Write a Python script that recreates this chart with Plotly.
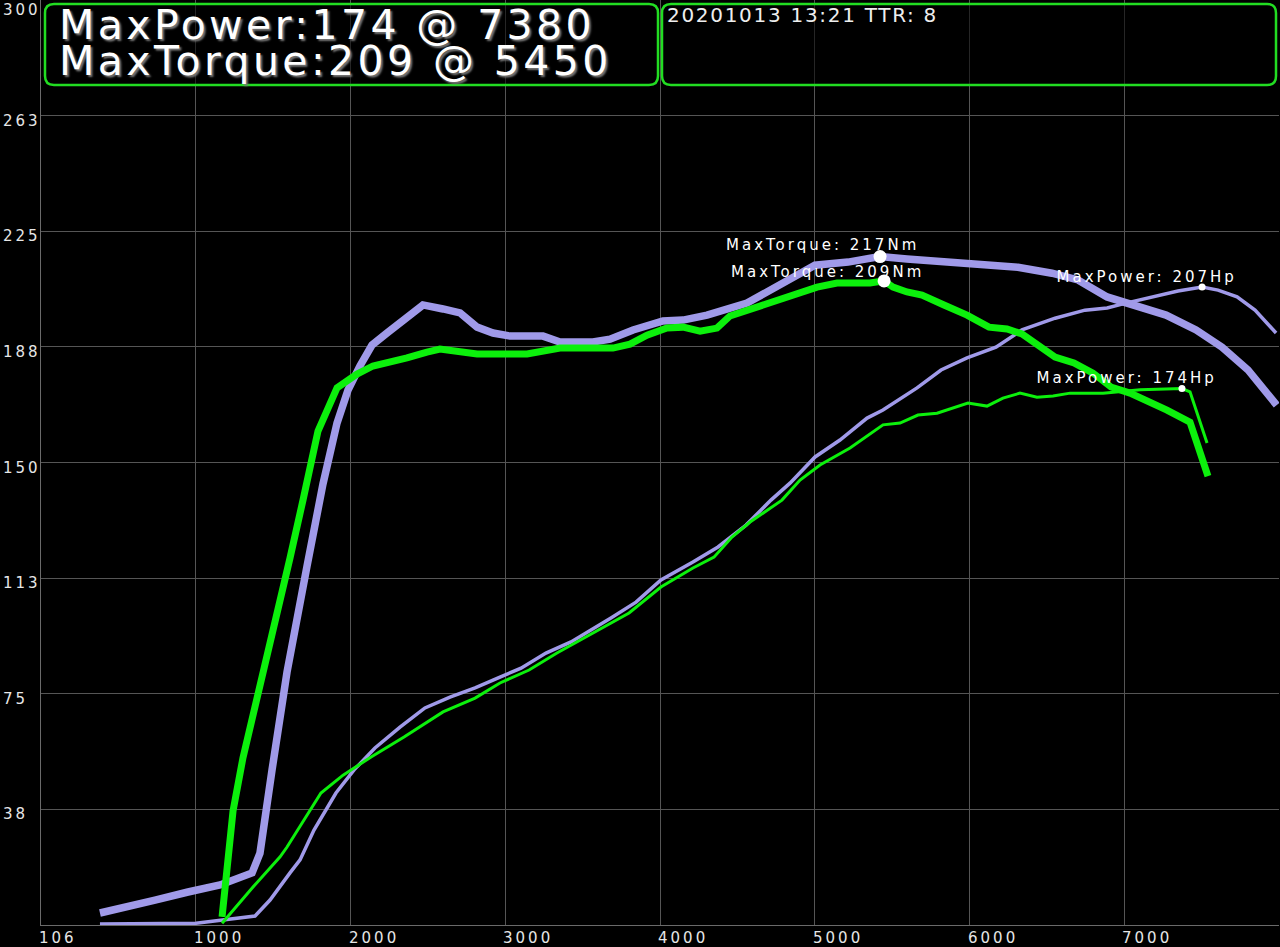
import numpy as np
import plotly.graph_objects as go

# ---------------- data ----------------
# Run A (lavender) torque [Nm] and power [Hp] vs rpm
a_torque_rpm = [381, 523, 737, 950, 1157, 1364, 1415, 1493, 1590, 1719, 1822, 1913, 1984, 2061, 2139,
                2236, 2365, 2468, 2598, 2708, 2818, 2921, 3031, 3244, 3354, 3567, 3677, 3826, 4019,
                4149, 4304, 4472, 4562, 4691, 4840, 5001, 5215, 5422, 5596, 5835, 6003, 6171, 6313,
                6533, 6701, 6889, 7082, 7270, 7464, 7632, 7800, 7985]
a_torque = [3.9, 5.8, 8.1, 10.7, 13.0, 16.9, 23.3, 50.3, 82.1, 116.4, 143.0, 162.8, 173.5, 181.3, 188.1,
            192.0, 197.2, 201.1, 199.8, 198.5, 193.9, 192.0, 191.0, 191.0, 189.1, 189.1, 190.0, 193.0,
            195.9, 196.2, 197.8, 200.4, 201.7, 205.3, 209.2, 214.0, 215.0, 216.8, 216.0, 215.0, 214.7,
            213.7, 213.3, 211.4, 209.2, 203.7, 200.4, 197.8, 193.0, 187.4, 180.0, 168.6]

a_power_rpm = [381, 1002, 1383, 1480, 1609, 1674, 1764, 1906, 2023, 2158, 2320, 2481, 2643, 2805, 2966,
               3102, 3263, 3425, 3683, 3845, 4006, 4213, 4375, 4556, 4717, 4840, 5002, 5163, 5338,
               5441, 5661, 5816, 5984, 6171, 6339, 6553, 6746, 6889, 7011, 7179, 7347, 7503, 7606,
               7729, 7845, 7981]
a_power = [0.3, 0.6, 2.9, 8.1, 16.9, 21.1, 30.8, 42.8, 50.3, 57.4, 64.2, 70.4, 73.9, 76.9, 80.4,
           83.3, 88.2, 91.8, 99.6, 104.7, 111.9, 117.7, 122.6, 129.7, 137.8, 143.3, 151.8, 157.3, 164.4,
           167.0, 174.2, 180.0, 183.9, 187.4, 193.0, 196.8, 199.4, 200.1, 201.7, 203.7, 205.6, 206.9,
           205.9, 203.7, 199.4, 192.0]

# Run B (green) torque [Nm] and power [Hp] vs rpm
b_torque_rpm = [1170, 1241, 1305, 1415, 1525, 1609, 1693, 1790, 1913, 2042, 2145, 2320, 2365, 2494,
                2578, 2818, 3141, 3354, 3696, 3806, 3916, 4045, 4149, 4259, 4368, 4452, 4582, 4691,
                4795, 4905, 5015, 5144, 5357, 5448, 5506, 5596, 5693, 5835, 5984, 6126, 6242, 6339,
                6462, 6553, 6675, 6798, 6914, 7037, 7276, 7425, 7541]
b_torque = [2.6, 37.0, 54.2, 76.9, 100.5, 119.0, 137.8, 160.2, 174.2, 178.7, 181.3, 183.2, 183.9, 185.8,
            186.8, 185.2, 185.2, 187.1, 187.1, 188.4, 191.3, 193.6, 193.9, 192.6, 193.6, 197.5, 199.8,
            201.7, 203.0, 205.0, 206.9, 208.2, 208.2, 208.9, 206.9, 205.3, 204.3, 201.1, 197.8, 193.9,
            193.3, 191.7, 187.4, 184.2, 182.3, 179.0, 174.5, 172.5, 167.0, 163.1, 145.6]

b_power_rpm = [1170, 1370, 1545, 1590, 1809, 1952, 2133, 2346, 2598, 2805, 2966, 3154, 3334, 3683,
               3800, 4006, 4213, 4349, 4465, 4582, 4788, 4905, 5034, 5228, 5441, 5551, 5667, 5790,
               5990, 6113, 6216, 6326, 6436, 6540, 6650, 6863, 7102, 7373, 7425, 7535]
b_power = [0.6, 12.3, 22.1, 25.3, 42.8, 48.6, 54.5, 61.0, 69.1, 73.6, 78.5, 82.7, 88.2, 97.9,
           101.2, 109.6, 115.8, 119.3, 125.8, 130.7, 137.8, 144.3, 149.2, 154.7, 162.2, 162.8, 165.4,
           166.0, 169.3, 168.3, 170.9, 172.5, 171.2, 171.6, 172.5, 172.5, 173.6, 174.0, 172.9, 156.3]

x_tick_vals = [0, 1000, 2000, 3000, 4000, 5000, 6000, 7000]
x_tick_text = ["106", "1000", "2000", "3000", "4000", "5000", "6000", "7000"]
y_tick_vals = [37.5, 75, 112.5, 150, 187.5, 225, 262.5, 300]
y_tick_text = ["38", "75", "113", "150", "188", "225", "263", "300"]

title_line1 = "MaxPower:174 @ 7380"
title_line2 = "MaxTorque:209 @ 5450"
info_text = "20201013 13:21 TTR: 8"

# ---------------- styling ----------------
PURPLE = "#a09ae9"
GREEN = "#0cf00c"
FONT = "DejaVu Sans"
W, H = 1280, 947
ML, MR, MT, MB = 41, 1, 0, 22
PW, PH = W - ML - MR, H - MT - MB


def px2paper(xp, yp):
    return (xp - ML) / PW, (H - MB - yp) / PH


fig = go.Figure()

fig.add_trace(go.Scatter(x=a_power_rpm, y=a_power, mode="lines",
                         line=dict(color=PURPLE, width=3.5), hoverinfo="skip"))
fig.add_trace(go.Scatter(x=b_power_rpm, y=b_power, mode="lines",
                         line=dict(color=GREEN, width=3), hoverinfo="skip"))
fig.add_trace(go.Scatter(x=a_torque_rpm, y=a_torque, mode="lines",
                         line=dict(color=PURPLE, width=7.5), hoverinfo="skip"))
fig.add_trace(go.Scatter(x=b_torque_rpm, y=b_torque, mode="lines",
                         line=dict(color=GREEN, width=7), hoverinfo="skip"))

annotations = []
peaks = [
    (a_torque_rpm, a_torque, "MaxTorque: {}Nm", 13, -58, 12),
    (b_torque_rpm, b_torque, "MaxTorque: {}Nm", 13, -57, 9),
    (a_power_rpm, a_power, "MaxPower: {}Hp", 7, -56, 10),
    (b_power_rpm, b_power, "MaxPower: {}Hp", 7, -55, 11),
]
for xs, ys, fmt, msize, dx, dy in peaks:
    i = int(np.argmax(ys))
    fig.add_trace(go.Scatter(x=[xs[i]], y=[ys[i]], mode="markers",
                             marker=dict(color="white", size=msize, line=dict(width=0)),
                             hoverinfo="skip"))
    annotations.append(dict(x=xs[i], y=ys[i], xref="x", yref="y", text=fmt.format(round(ys[i])),
                            showarrow=False, xanchor="center", yanchor="middle",
                            xshift=dx, yshift=dy,
                            font=dict(family=FONT, size=15, color="white")))

# tick labels (left-aligned like the original)
for v, t in zip(x_tick_vals, x_tick_text):
    annotations.append(dict(x=v, y=0, xref="x", yref="paper", text=t, showarrow=False,
                            xanchor="left", yanchor="top", align="left", xshift=-4, yshift=-2,
                            font=dict(family=FONT, size=15, color="#e6e6e6")))
y_top = max(y_tick_vals)
for v, t in zip(y_tick_vals, y_tick_text):
    annotations.append(dict(x=0, y=v, xref="paper", yref="y", text=t, showarrow=False,
                            xanchor="left", yanchor="top", align="left", xshift=-40,
                            yshift=1 if v == y_top else 6,
                            font=dict(family=FONT, size=15, color="#e6e6e6")))

# header boxes
def rounded_box(x0p, y0p, x1p, y1p, r=9):
    x0, y1 = px2paper(x0p, y0p)
    x1, y0 = px2paper(x1p, y1p)
    rx, ry = r / PW, r / PH
    return (f"M {x0+rx},{y1} L {x1-rx},{y1} Q {x1},{y1} {x1},{y1-ry} "
            f"L {x1},{y0+ry} Q {x1},{y0} {x1-rx},{y0} L {x0+rx},{y0} "
            f"Q {x0},{y0} {x0},{y0+ry} L {x0},{y1-ry} Q {x0},{y1} {x0+rx},{y1} Z")

shapes = []
for bx in [(45, 4, 658, 85), (662, 4, 1276, 85)]:
    shapes.append(dict(type="path", xref="paper", yref="paper", path=rounded_box(*bx),
                       line=dict(color="#22dd22", width=2.5), fillcolor="rgba(0,0,0,0.55)",
                       layer="above"))

for txt, yp in [(title_line1, 25), (title_line2, 61)]:
    xq, yq = px2paper(57, yp)
    annotations.append(dict(x=xq, y=yq, xref="paper", yref="paper", text=txt, showarrow=False,
                            xanchor="left", yanchor="middle", align="left",
                            font=dict(family=FONT, size=41, color="white",
                                      shadow="2px 2px 2px #777")))
xq, yq = px2paper(665, 15)
annotations.append(dict(x=xq, y=yq, xref="paper", yref="paper", text=info_text, showarrow=False,
                        xanchor="left", yanchor="middle", align="left",
                        font=dict(family=FONT, size=20, color="#eeeeee")))

fig.update_layout(
    width=W, height=H,
    margin=dict(l=ML, r=MR, t=MT, b=MB),
    paper_bgcolor="black", plot_bgcolor="black",
    showlegend=False,
    annotations=annotations, shapes=shapes,
    xaxis=dict(range=[0, 8000], tickvals=x_tick_vals, showticklabels=False,
               showgrid=True, gridcolor="#555555", gridwidth=1, zeroline=False,
               showline=True, linecolor="#6a6a6a", linewidth=1, ticks=""),
    yaxis=dict(range=[0, 300], tickvals=y_tick_vals, showticklabels=False,
               showgrid=True, gridcolor="#555555", gridwidth=1, zeroline=False,
               showline=True, linecolor="#6a6a6a", linewidth=1, ticks=""),
)

# remove the browser's default page margin and widen the letter spacing like the original
post = """
document.body.style.margin = '0';
document.querySelectorAll('text.annotation-text').forEach(function (t) {
  var fs = parseFloat(t.style.fontSize || '0');
  if (fs >= 19 && fs <= 21) { t.style.letterSpacing = '1.7px'; }
  else if (fs > 30) { t.style.letterSpacing = '3.4px'; }
  else { t.style.letterSpacing = '3px'; }
});
"""
fig.write_html("out.html", post_script=post, config={"displayModeBar": False})
